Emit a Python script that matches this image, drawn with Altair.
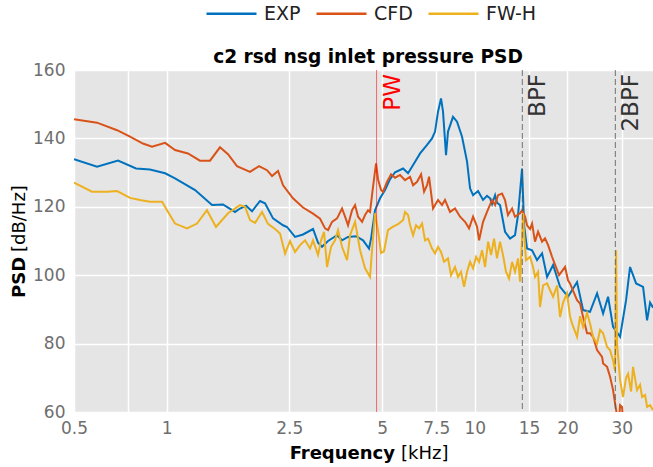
import altair as alt
import pandas as pd

FONT = "DejaVu Sans"

series_names = ["EXP", "CFD", "FW-H"]
series_colors = ["#0072BD", "#D95319", "#EDB120"]

# ---- EXP (frequency in kHz, PSD in dB/Hz) ----
exp_freq = [0.500, 0.594, 0.695, 0.795, 0.882, 0.988, 1.064, 1.236, 1.403, 1.523,
            1.666, 1.729, 1.809, 1.892, 2.009, 2.085, 2.214, 2.386, 2.458, 2.609,
            2.770, 2.985, 3.099, 3.193, 3.340, 3.572, 3.708, 3.878, 4.118, 4.339,
            4.537, 4.606, 4.745, 4.926, 5.113, 5.305, 5.511, 5.851, 6.074, 6.401,
            6.645, 7.001, 7.266, 7.431, 7.599, 7.771, 7.888, 8.066, 8.188, 8.500,
            8.758, 9.093, 9.440, 9.654, 9.874, 10.25, 10.64, 10.96, 11.21, 11.38,
            11.64, 11.81, 12.08, 12.54, 13.02, 13.51, 13.82, 14.24, 14.46, 14.78,
            15.35, 15.93, 16.54, 17.17, 17.96, 18.92, 20.08, 21.48, 22.47, 23.67,
            24.95, 26.10, 27.09, 28.12, 29.63, 30.99, 31.93, 33.40, 35.19, 36.26,
            37.08, 37.92]
exp_psd = [133.9, 131.7, 133.5, 131.2, 130.9, 129.8, 128.3, 124.9, 120.5, 120.7,
           118.5, 119.5, 120.3, 118.7, 121.7, 121.0, 116.6, 114.6, 114.1, 111.2,
           111.9, 113.5, 109.5, 108.3, 110.0, 111.7, 110.2, 111.2, 111.4, 110.2,
           107.8, 110.7, 119.0, 122.5, 124.9, 128.0, 130.1, 131.2, 129.8, 133.2,
           135.6, 138.1, 140.0, 142.0, 147.8, 151.7, 147.8, 135.1, 142.0, 146.3,
           144.9, 140.5, 133.2, 125.4, 123.4, 124.6, 122.0, 123.2, 122.5, 120.8,
           123.4, 121.2, 120.5, 112.7, 110.7, 111.7, 117.6, 131.2, 114.6, 107.8,
           107.3, 104.4, 106.4, 99.5, 103.0, 96.6, 93.7, 98.0, 89.8, 89.3,
           94.7, 88.8, 93.7, 84.9, 82.0, 92.7, 102.4, 97.6, 96.6, 86.8,
           92.0, 90.5]

# ---- CFD ----
cfd_freq = [0.500, 0.594, 0.690, 0.760, 0.837, 0.896, 0.988, 1.064, 1.172, 1.282,
            1.382, 1.489, 1.581, 1.691, 1.864, 1.993, 2.116, 2.197, 2.298, 2.386,
            2.570, 2.770, 2.985, 3.146, 3.266, 3.340, 3.441, 3.572, 3.708, 3.793,
            3.878, 3.996, 4.087, 4.180, 4.307, 4.404, 4.504, 4.571, 4.675, 4.781,
            4.853, 4.963, 5.037, 5.188, 5.349, 5.511, 5.721, 5.939, 6.166, 6.306,
            6.497, 6.695, 6.847, 7.001, 7.106, 7.320, 7.599, 7.829, 8.006, 8.311,
            8.628, 8.958, 9.300, 9.582, 9.874, 10.17, 10.33, 10.64, 10.96, 11.38,
            11.64, 11.90, 12.26, 12.54, 12.82, 13.22, 13.51, 14.03, 14.24, 14.57,
            14.78, 15.12, 15.35, 15.69, 16.05, 16.54, 16.91, 17.30, 17.82, 18.23,
            18.78, 19.64, 20.08, 20.38, 21.48, 21.97, 22.47, 23.15, 23.67, 24.21,
            24.95, 25.90, 26.10, 26.89, 27.50, 28.12, 28.54, 28.97, 29.41, 29.63,
            30.07, 30.30]
cfd_psd = [145.6, 144.6, 142.4, 140.5, 138.5, 137.6, 138.7, 136.6, 135.6, 133.5,
           133.5, 137.4, 135.4, 131.9, 130.2, 131.9, 130.7, 129.0, 130.5, 126.3,
           122.5, 119.8, 118.0, 116.5, 113.7, 113.2, 115.6, 116.6, 119.5, 117.1,
           114.6, 119.0, 120.5, 117.1, 115.6, 117.6, 119.0, 118.5, 125.9, 132.7,
           128.0, 124.9, 124.4, 127.3, 129.5, 128.5, 129.3, 127.8, 128.8, 126.3,
           127.3, 129.5, 124.4, 126.3, 128.8, 119.5, 122.0, 120.5, 122.0, 118.5,
           119.5, 117.1, 115.6, 113.7, 117.1, 114.2, 110.2, 115.6, 118.5, 122.0,
           120.5, 123.4, 123.9, 122.0, 117.6, 119.5, 117.1, 118.1, 119.0, 117.1,
           114.6, 113.5, 115.1, 109.8, 112.7, 109.8, 110.8, 108.8, 105.4, 103.0,
           100.0, 102.4, 98.5, 97.6, 92.7, 91.7, 87.8, 83.0, 83.0, 82.0,
           78.1, 76.1, 74.2, 73.2, 70.3, 66.4, 62.5, 59.0, 57.5, 62.0,
           61.5, 57.0]

# ---- FW-H ----
fwh_freq = [0.500, 0.572, 0.640, 0.690, 0.760, 0.819, 0.882, 0.966, 1.010, 1.064,
            1.164, 1.254, 1.351, 1.445, 1.581, 1.729, 1.795, 1.864, 1.935, 2.039,
            2.132, 2.247, 2.333, 2.422, 2.513, 2.609, 2.709, 2.812, 2.919, 2.985,
            3.099, 3.170, 3.241, 3.315, 3.416, 3.519, 3.599, 3.708, 3.850, 3.937,
            4.087, 4.243, 4.404, 4.571, 4.640, 4.745, 4.853, 4.963, 5.075, 5.227,
            5.429, 5.636, 5.851, 5.939, 6.074, 6.166, 6.306, 6.449, 6.595, 6.745,
            6.897, 7.054, 7.266, 7.431, 7.599, 7.771, 7.947, 8.188, 8.374, 8.628,
            8.824, 9.025, 9.230, 9.440, 9.654, 9.874, 10.10, 10.33, 10.56, 10.80,
            11.05, 11.30, 11.55, 11.81, 12.08, 12.35, 12.63, 12.92, 13.22, 13.51,
            13.82, 14.03, 14.24, 14.35, 14.46, 14.67, 15.12, 15.46, 15.69, 16.05,
            16.29, 16.66, 17.17, 17.56, 17.96, 18.50, 18.92, 19.35, 19.93, 20.38,
            20.69, 21.48, 21.97, 22.47, 23.15, 23.67, 24.21, 24.95, 25.52, 26.10,
            26.89, 27.50, 28.12, 28.54, 28.76, 28.97, 29.63, 30.30, 30.99, 31.46,
            32.17, 32.65, 33.64, 34.41, 34.93, 35.72, 36.26, 37.08, 37.92]
fwh_psd = [127.1, 124.4, 124.4, 124.6, 122.6, 122.0, 121.5, 121.5, 118.5, 115.1,
           113.7, 115.1, 119.0, 114.1, 118.1, 120.5, 120.0, 116.1, 115.3, 118.5,
           115.0, 113.5, 112.2, 106.3, 110.0, 106.8, 108.8, 110.2, 107.8, 110.2,
           105.9, 110.2, 112.7, 102.4, 108.3, 110.2, 113.2, 108.3, 104.4, 111.7,
           115.6, 107.3, 102.0, 99.5, 107.3, 118.1, 113.0, 106.5, 107.0, 113.2,
           114.2, 114.9, 116.1, 118.5, 117.6, 114.6, 111.7, 114.6, 113.7, 115.1,
           110.2, 110.7, 107.8, 106.4, 108.3, 106.8, 103.9, 104.9, 100.0, 102.4,
           99.5, 101.0, 96.6, 101.0, 103.9, 102.0, 105.4, 103.9, 107.3, 102.4,
           109.8, 105.9, 110.7, 104.9, 109.8, 105.9, 101.0, 99.0, 103.9, 101.0,
           104.9, 98.1, 110.7, 118.1, 112.0, 104.4, 105.4, 102.4, 99.5, 101.0,
           90.7, 97.0, 97.6, 95.6, 93.7, 97.0, 87.8, 92.0, 94.7, 88.0,
           85.9, 82.0, 88.0, 84.9, 89.0, 85.9, 82.0, 80.0, 84.0, 83.0,
           79.0, 78.1, 75.1, 72.0, 107.3, 80.0, 69.3, 64.4, 70.0, 71.2,
           66.0, 73.2, 66.4, 68.0, 64.4, 65.0, 61.5, 62.0, 60.5]

# ---- reference lines ----
pw_freq = [4.8]
bpf_labels = ["BPF", "2BPF"]
bpf_freq = [14.27, 28.6]

x_ticks = [0.5, 0.75, 1, 2.5, 5, 7.5, 10, 15, 20, 30]
y_ticks = [60, 80, 100, 120, 140, 160]

rows = []
for name, fs, ps in [("EXP", exp_freq, exp_psd), ("CFD", cfd_freq, cfd_psd), ("FW-H", fwh_freq, fwh_psd)]:
    for f, p in zip(fs, ps):
        rows.append({"series": name, "freq": f, "psd": p})
df = pd.DataFrame(rows)

xscale = alt.Scale(type="log", domain=[0.5, 37.9], nice=False)
yscale = alt.Scale(domain=[60, 160], nice=False)

lines = alt.Chart(df).mark_line(strokeWidth=2, clip=True).encode(
    x=alt.X("freq:Q", scale=xscale,
            axis=alt.Axis(values=x_ticks, title=None, labelFlush=False, labelOverlap=False,
                          labelExpr="datum.value == 0.75 ? '' : format(datum.value, '~g')",
                          labelPadding=8)),
    y=alt.Y("psd:Q", scale=yscale,
            axis=alt.Axis(values=y_ticks, title=None, labelPadding=9,
                          labelFlush=False, labelOverlap=False)),
    color=alt.Color("series:N", sort=series_names,
                    scale=alt.Scale(domain=series_names, range=series_colors),
                    legend=alt.Legend(title=None, orient="none", legendX=131, legendY=-83,
                                      direction="horizontal", symbolType="stroke",
                                      symbolSize=2500, symbolStrokeWidth=2.5,
                                      labelFontSize=19, labelFont=FONT, labelColor="#222222",
                                      labelOffset=6, columnPadding=10)),
)

pw_df = pd.DataFrame({"freq": pw_freq, "label": ["PW"]})
bpf_df = pd.DataFrame({"freq": bpf_freq, "label": bpf_labels})

pw_rule = alt.Chart(pw_df).mark_rule(color="#ff0000", opacity=0.55, strokeWidth=1).encode(x="freq:Q")
pw_text = alt.Chart(pw_df).mark_text(angle=270, align="right", baseline="top", dy=5,
                                     fontSize=23, font=FONT, color="#ff0000").encode(
    x="freq:Q", y=alt.value(4), text="label:N")

bpf_rule = alt.Chart(bpf_df).mark_rule(color="#555555", opacity=0.8, strokeWidth=1,
                                       strokeDash=[6, 3]).encode(x="freq:Q")
bpf_text = alt.Chart(bpf_df).mark_text(angle=270, align="right", baseline="top", dy=5,
                                       fontSize=23, font=FONT, color="#333333").encode(
    x="freq:Q", y=alt.value(4), text="label:N")

one = pd.DataFrame({"a": [0]})
title_txt = alt.Chart(one).mark_text(text="c2 rsd nsg inlet pressure PSD", align="center",
                                     baseline="alphabetic", fontSize=18.6, fontWeight="bold",
                                     font=FONT, color="black").encode(
    x=alt.value(294), y=alt.value(-7))
ylab1 = alt.Chart(one).mark_text(text="PSD", angle=270, align="left", baseline="alphabetic",
                                 fontSize=18, fontWeight="bold", font=FONT, color="black").encode(
    x=alt.value(-49), y=alt.value(228))
ylab2 = alt.Chart(one).mark_text(text="[dB/Hz]", angle=270, align="left", baseline="alphabetic",
                                 fontSize=18, font=FONT, color="black").encode(
    x=alt.value(-49), y=alt.value(182))
xlab1 = alt.Chart(one).mark_text(text="Frequency", align="right", baseline="alphabetic",
                                 fontSize=18, fontWeight="bold", font=FONT, color="black").encode(
    x=alt.value(321), y=alt.value(389))
xlab2 = alt.Chart(one).mark_text(text="[kHz]", align="left", baseline="alphabetic",
                                 fontSize=18, font=FONT, color="black").encode(
    x=alt.value(327), y=alt.value(389))

chart = alt.layer(lines, pw_rule, bpf_rule, pw_text, bpf_text,
                  title_txt, ylab1, ylab2, xlab1, xlab2).properties(
    width=579, height=342,
    autosize=alt.AutoSizeParams(type="none"),
    padding={"left": 74, "top": 70, "right": 0, "bottom": 55},
).configure_view(
    stroke=None, fill="#E5E5E5"
).configure_axis(
    domain=False, ticks=False, grid=True, gridColor="white", gridWidth=1.5,
    labelColor="#6e6e6e", labelFontSize=17, labelFont=FONT
)

chart.save("out.html", embed_options={"renderer": "svg", "actions": False})
